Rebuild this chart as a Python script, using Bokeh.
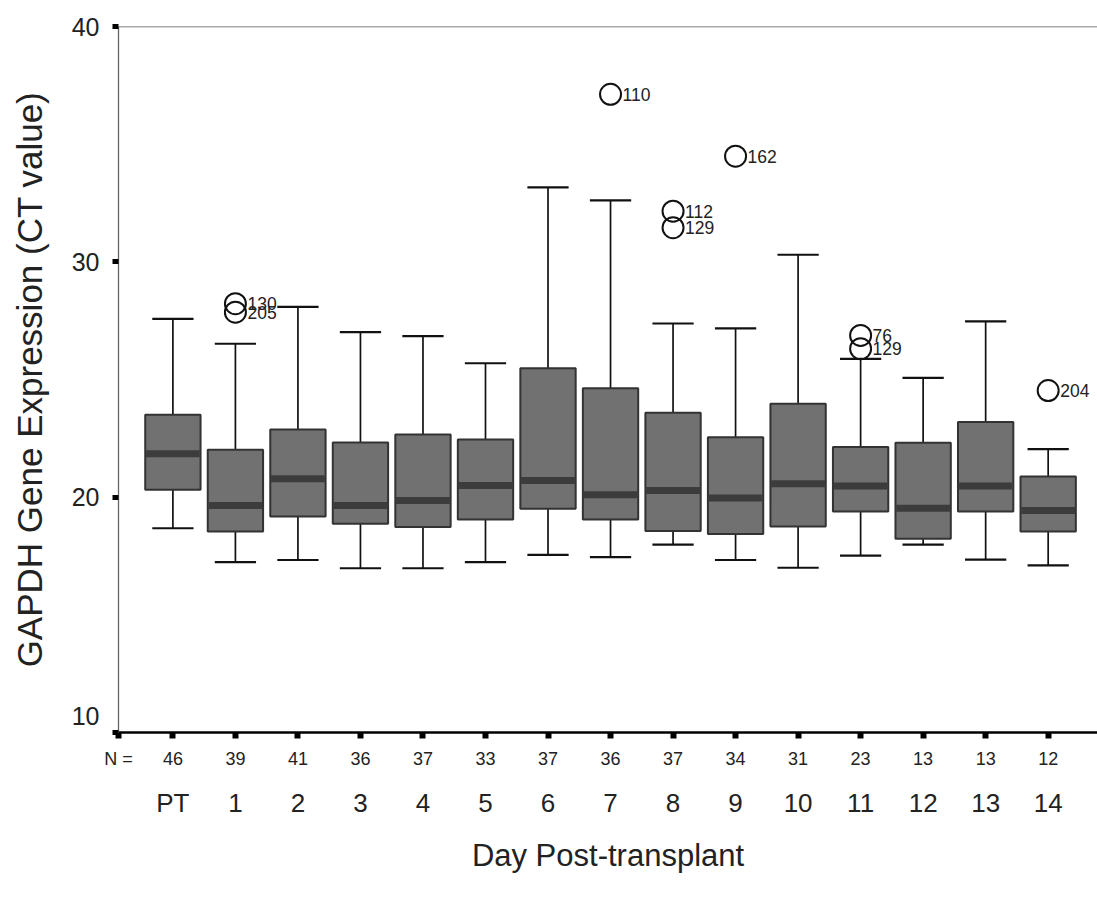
from bokeh.plotting import figure
from bokeh.models import Range1d, LinearAxis, FixedTicker, Span
from bokeh.core.properties import value
from bokeh.embed import file_html
from bokeh.resources import INLINE

# ---- data ----
days = ["PT", "1", "2", "3", "4", "5", "6", "7", "8", "9", "10", "11", "12", "13", "14"]
n_counts = [46, 39, 41, 36, 37, 33, 37, 36, 37, 34, 31, 23, 13, 13, 12]
whisk_lo = [18.68, 17.24, 17.33, 16.98, 16.98, 17.24, 17.55, 17.45, 17.98, 17.33, 17.00, 17.52, 17.98, 17.35, 17.10]
q1 = [20.31, 18.54, 19.18, 18.87, 18.73, 19.05, 19.51, 19.05, 18.56, 18.44, 18.75, 19.39, 18.23, 19.39, 18.54]
median = [21.84, 19.65, 20.78, 19.65, 19.86, 20.50, 20.71, 20.10, 20.28, 19.96, 20.57, 20.47, 19.53, 20.47, 19.43]
q3 = [23.50, 22.01, 22.88, 22.32, 22.66, 22.45, 25.48, 24.63, 23.59, 22.55, 23.97, 22.13, 22.31, 23.19, 20.88]
whisk_hi = [27.58, 26.52, 28.09, 27.01, 26.84, 25.69, 33.16, 32.61, 27.38, 27.17, 30.30, 25.88, 25.07, 27.47, 22.04]

out_day = ["1", "1", "7", "8", "8", "9", "11", "11", "14"]
out_val = [28.22, 27.86, 37.12, 32.15, 31.45, 34.49, 26.87, 26.31, 24.53]
out_id = ["130", "205", "110", "112", "129", "162", "76", "129", "204"]

y_ticks = [10, 20, 30, 40]

FONT = "Liberation Sans"

xs = list(range(len(days)))
out_x = [days.index(d) for d in out_day]

p = figure(width=1097, height=897, output_backend="svg", toolbar_location=None,
           x_range=Range1d(-0.870, 14.789), y_range=Range1d(10, 40),
           x_axis_location=None, y_axis_location="left",
           min_border_left=118, min_border_right=0, min_border_top=26, min_border_bottom=165)
p.outline_line_color = None
p.xgrid.visible = False
p.ygrid.visible = False
p.background_fill_color = "white"
p.border_fill_color = "white"

# y axis
ya = p.yaxis[0]
ya.ticker = FixedTicker(ticks=y_ticks)
ya.minor_tick_line_color = None
ya.major_tick_in = 0
ya.major_tick_out = 6
ya.major_tick_line_width = 5
ya.major_tick_line_color = "black"
ya.axis_line_color = "#666666"
ya.axis_line_width = 1.3
ya.major_label_text_font = FONT
ya.major_label_text_font_size = "25px"
ya.major_label_text_color = "#222222"
ya.major_label_standoff = 13
ya.major_label_overrides = {10: "10\n"}
ya.axis_label = "GAPDH Gene Expression (CT value)"
ya.axis_label_text_font = FONT
ya.axis_label_text_font_size = "35px"
ya.axis_label_text_font_style = "normal"
ya.axis_label_text_color = "#222222"
ya.axis_label_standoff = 20

# x axis with N counts
n_ticks = [-0.869] + xs
xa = LinearAxis(ticker=FixedTicker(ticks=n_ticks))
xa.major_label_overrides = {-0.869: "N ="}
for i, n in zip(xs, n_counts):
    xa.major_label_overrides[i] = str(n)
xa.minor_tick_line_color = None
xa.major_tick_in = 0
xa.major_tick_out = 6
xa.major_tick_line_width = 6
xa.major_tick_line_color = "black"
xa.axis_line_color = "black"
xa.axis_line_width = 2.5
xa.major_label_text_font = FONT
xa.major_label_text_font_size = "18px"
xa.major_label_text_color = "#222222"
xa.major_label_standoff = 10
p.add_layout(xa, "below")

# x axis with day labels
xb = LinearAxis(ticker=FixedTicker(ticks=xs))
xb.major_label_overrides = {i: d for i, d in zip(xs, days)}
xb.minor_tick_line_color = None
xb.major_tick_line_color = None
xb.axis_line_color = None
xb.major_label_text_font = FONT
xb.major_label_text_font_size = "26px"
xb.major_label_text_color = "#222222"
xb.major_label_standoff = 10
xb.axis_label = "Day Post-transplant"
xb.axis_label_text_font = FONT
xb.axis_label_text_font_size = "31px"
xb.axis_label_text_font_style = "normal"
xb.axis_label_text_color = "#222222"
xb.axis_label_standoff = 17
p.add_layout(xb, "below")

# top frame line
p.add_layout(Span(location=40, dimension="width", line_color="#555555", line_width=1.5))

# whiskers
p.segment(x0=xs, y0=q3, x1=xs, y1=whisk_hi, line_color="#111111", line_width=1.7)
p.segment(x0=xs, y0=q1, x1=xs, y1=whisk_lo, line_color="#111111", line_width=1.7)
# caps
p.rect(x=xs, y=whisk_hi, width=0.66, height=2.2, height_units="screen",
       fill_color="#111111", line_color=None)
p.rect(x=xs, y=whisk_lo, width=0.66, height=2.2, height_units="screen",
       fill_color="#111111", line_color=None)
# boxes
p.vbar(x=xs, width=0.885, bottom=q1, top=q3, fill_color="#717171",
       line_color="#333333", line_width=2)
# medians
p.rect(x=xs, y=median, width=0.86, height=7, height_units="screen",
       fill_color="#3c3c3c", line_color=None)
# outliers
p.scatter(x=out_x, y=out_val, marker="circle", size=21, fill_color=None,
          line_color="#111111", line_width=2)
p.text(x=out_x, y=out_val, text=out_id, x_offset=12, text_baseline="middle",
       text_align="left", text_font=value(FONT), text_font_size="17.5px",
       text_color="#222222")

open("out.html", "w").write(file_html(p, INLINE))
